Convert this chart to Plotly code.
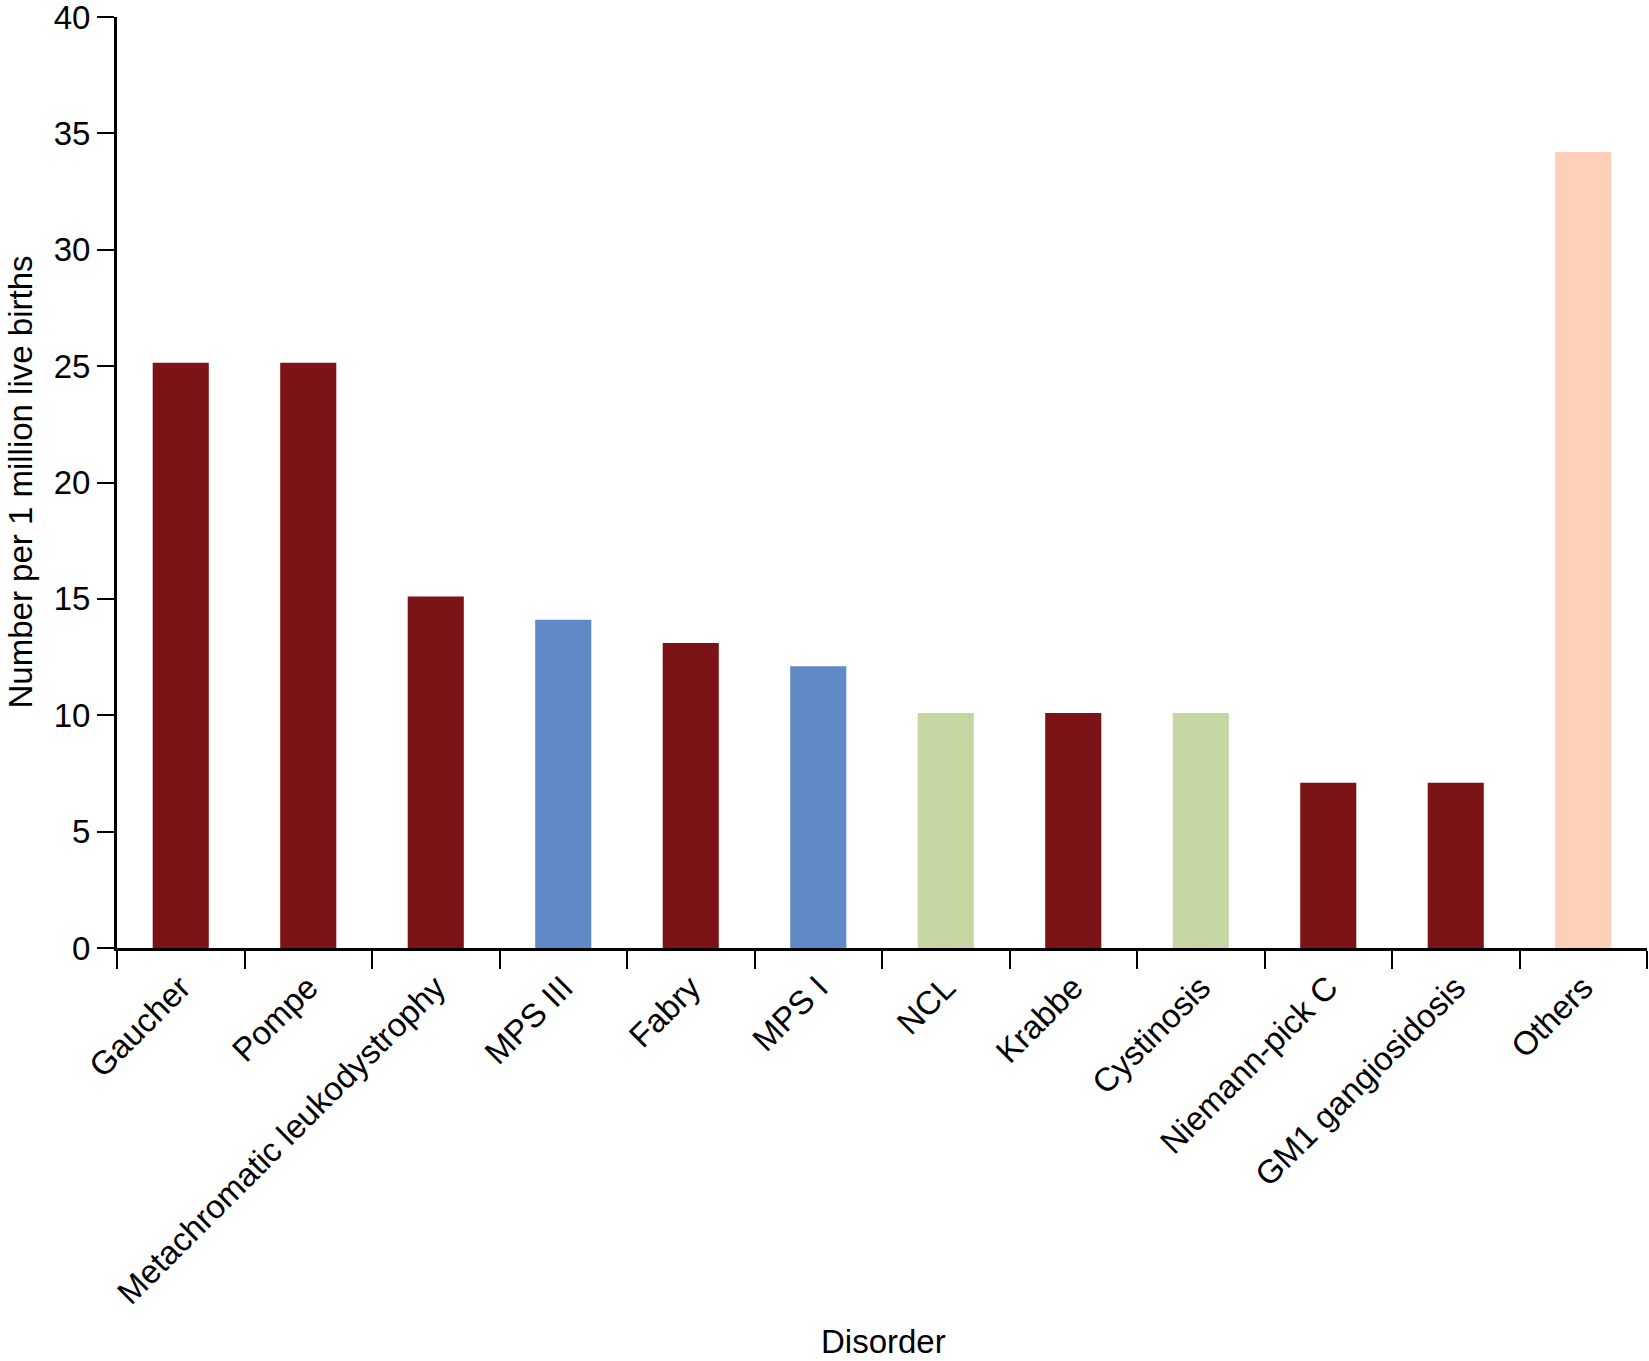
import plotly.graph_objects as go

categories = ["Gaucher", "Pompe", "Metachromatic leukodystrophy", "MPS III", "Fabry",
              "MPS I", "NCL", "Krabbe", "Cystinosis", "Niemann-pick C",
              "GM1 gangiosidosis", "Others"]
values = [25.15, 25.15, 15.1, 14.1, 13.1, 12.1, 10.1, 10.1, 10.1, 7.1, 7.1, 34.2]
groups = ["red", "red", "red", "blue", "red", "blue", "green", "red", "green", "red", "red", "peach"]
group_colors = {"red": "#7B1317", "blue": "#5F8AC7", "green": "#C5D6A2", "peach": "#FDD0B7"}
y_ticks = [0, 5, 10, 15, 20, 25, 30, 35, 40]
x_title = "Disorder"
y_title = "Number per 1 million live births"

FONT = "Liberation Sans, Arial, Helvetica, sans-serif"
FS = 33
W, H = 1649, 1361
ML, MR, MT, MB = 117, 2, 17, 413
PW, PH = W - ML - MR, H - MT - MB

fig = go.Figure(go.Bar(
    x=categories,
    y=values,
    marker=dict(color=[group_colors[g] for g in groups], line=dict(width=0)),
))

fig.update_layout(
    width=W, height=H,
    margin=dict(l=ML, r=MR, t=MT, b=MB),
    paper_bgcolor="white", plot_bgcolor="white",
    bargap=0.56,
    showlegend=False,
    font=dict(family=FONT, size=FS, color="black"),
    annotations=[
        dict(text=y_title, xref="paper", yref="paper",
             x=(20 - ML) / PW, y=0.5, xanchor="center", yanchor="middle",
             textangle=-90, showarrow=False,
             font=dict(family=FONT, size=FS, color="black")),
        dict(text=x_title, xref="paper", yref="paper",
             x=(883 - ML) / PW, y=(H - MB - 1341) / PH, xanchor="center", yanchor="middle",
             showarrow=False,
             font=dict(family=FONT, size=FS, color="black")),
    ],
)

fig.update_xaxes(
    type="category",
    tickson="boundaries",
    ticks="outside", ticklen=18, tickwidth=2, tickcolor="black",
    showline=True, linecolor="black", linewidth=3,
    showgrid=False,
    tickangle=-45,
    ticklabelstandoff=4,
    tickfont=dict(family=FONT, size=FS, color="black"),
    automargin=False,
)

fig.update_yaxes(
    range=[0, 40],
    tickvals=y_ticks,
    ticks="outside", ticklen=17, tickwidth=2, tickcolor="black",
    showline=True, linecolor="black", linewidth=3,
    showgrid=False, zeroline=False,
    ticklabeloverflow="allow",
    tickfont=dict(family=FONT, size=FS, color="black"),
    automargin=False,
)

fig.write_html(
    "out.html",
    config={"displayModeBar": False},
    post_script="document.body.style.margin='0';document.body.style.overflow='hidden';",
)
